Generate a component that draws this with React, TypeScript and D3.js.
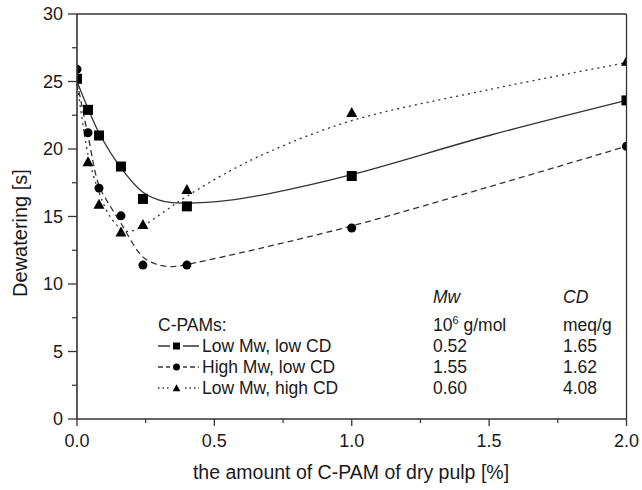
import React from "react";
import * as d3 from "d3";

const W = 642;
const H = 490;

// measured points
const xSquares = [0, 0.04, 0.08, 0.16, 0.24, 0.4, 1.0, 2.0];
const ySquares = [25.2, 22.9, 21.0, 18.7, 16.3, 15.75, 18.0, 23.6];
const xCircles = [0, 0.04, 0.08, 0.16, 0.24, 0.4, 1.0, 2.0];
const yCircles = [25.9, 21.2, 17.1, 15.05, 11.4, 11.4, 14.15, 20.2];
const xTriangles = [0.04, 0.08, 0.16, 0.24, 0.4, 1.0, 2.0];
const yTriangles = [19.05, 15.9, 13.85, 14.4, 17.0, 22.7, 26.5];

// fitted curves
const xFitSolid = [0, 0.04, 0.08, 0.16, 0.24, 0.32, 0.4, 0.55, 0.7, 1.0, 1.5, 2.0];
const yFitSolid = [25.0, 23.0, 21.2, 18.6, 16.8, 16.1, 16.0, 16.2, 16.7, 18.1, 21.0, 23.6];
const xFitDashed = [0, 0.04, 0.08, 0.12, 0.16, 0.24, 0.3, 0.36, 0.4, 0.55, 0.7, 1.0, 1.5, 2.0];
const yFitDashed = [25.0, 21.0, 17.3, 15.8, 14.5, 12.0, 11.4, 11.3, 11.45, 12.1, 12.8, 14.3, 17.2, 20.2];
const xFitDotted = [0, 0.04, 0.08, 0.12, 0.16, 0.19, 0.24, 0.32, 0.4, 0.55, 0.7, 1.0, 1.5, 2.0];
const yFitDotted = [25.0, 19.6, 16.8, 15.0, 14.1, 13.9, 14.3, 15.4, 16.5, 18.3, 19.8, 22.1, 24.4, 26.4];

const xTicks = [0, 0.5, 1.0, 1.5, 2.0];
const xMinorTicks = [0.25, 0.75, 1.25, 1.75];
const yTicks = [0, 5, 10, 15, 20, 25, 30];
const yMinorTicks = [2.5, 7.5, 12.5, 17.5, 22.5, 27.5];

const legendNames = ["Low Mw, low CD", "High Mw, low CD", "Low Mw, high CD"];
const legendMw = ["0.52", "1.55", "0.60"];
const legendCD = ["1.65", "1.62", "4.08"];

const FONT = "'Liberation Sans', Arial, sans-serif";
const LINE = "#333";
const TXT = "#1a1a1a";

export default function App() {
  const x = d3.scaleLinear().domain([0, 2]).range([77, 626.5]);
  const y = d3.scaleLinear().domain([0, 30]).range([419, 14]);
  const line = d3
    .line<[number, number]>()
    .x((d) => x(d[0]))
    .y((d) => y(d[1]))
    .curve(d3.curveCatmullRom.alpha(0.5));

  const zip = (a: number[], b: number[]) => a.map((v, i) => [v, b[i]] as [number, number]);

  const dashes = ["none", "6,4", "2,4"];
  const legendDashes = ["none", "5,3", "1.5,3"];
  const fits = [
    zip(xFitSolid, yFitSolid),
    zip(xFitDashed, yFitDashed),
    zip(xFitDotted, yFitDotted),
  ];

  const square = (cx: number, cy: number, s: number, k: string) => (
    <rect key={k} x={cx - s / 2} y={cy - s / 2} width={s} height={s} fill="#000" />
  );
  const circle = (cx: number, cy: number, s: number, k: string) => (
    <circle key={k} cx={cx} cy={cy} r={s / 2} fill="#000" />
  );
  const tri = (cx: number, cy: number, s: number, k: string) => (
    <path
      key={k}
      d={`M${cx},${cy - s * 0.55}L${cx + s * 0.55},${cy + s * 0.45}L${cx - s * 0.55},${cy + s * 0.45}Z`}
      fill="#000"
    />
  );
  const markers = [square, circle, tri];

  const [x0, x1] = x.range();
  const [y0, y1] = y.range();

  const legendX = 158;
  const legendRows = [352, 373, 394];

  return (
    <svg
      width={W}
      height={H}
      style={{ position: "absolute", left: 0, top: 0, background: "#fff" }}
      fontFamily={FONT}
    >
      <defs>
        <clipPath id="plot">
          <rect x={x0} y={y1} width={x1 - x0} height={y0 - y1} />
        </clipPath>
      </defs>

      <g clipPath="url(#plot)">
        {fits.map((f, i) => (
          <path
            key={"f" + i}
            d={line(f) || ""}
            fill="none"
            stroke={LINE}
            strokeWidth={1.3}
            strokeDasharray={dashes[i]}
          />
        ))}
        {xSquares.map((v, i) => square(x(v), y(ySquares[i]), 10, "s" + i))}
        {xCircles.map((v, i) => circle(x(v), y(yCircles[i]), 9, "c" + i))}
        {xTriangles.map((v, i) => tri(x(v), y(yTriangles[i]), 10, "t" + i))}
      </g>

      {/* frame */}
      <line x1={x0} x2={x1} y1={y1} y2={y1} stroke={LINE} strokeWidth={1.3} />
      <line x1={x1} x2={x1} y1={y1} y2={y0} stroke={LINE} strokeWidth={1.3} />
      <line x1={x0} x2={x1} y1={y0} y2={y0} stroke={LINE} strokeWidth={1.6} />
      <line x1={x0} x2={x0} y1={y1} y2={y0} stroke={LINE} strokeWidth={1.6} />

      {/* y ticks */}
      {yTicks.map((t) => (
        <g key={"yt" + t}>
          <line x1={x0 - 9} x2={x0} y1={y(t)} y2={y(t)} stroke={LINE} strokeWidth={1.3} />
          <text x={x0 - 14} y={y(t)} dy="0.36em" textAnchor="end" fontSize={18} fill={TXT}>
            {t}
          </text>
        </g>
      ))}
      {yMinorTicks.map((t) => (
        <line key={"ym" + t} x1={x0 - 5} x2={x0} y1={y(t)} y2={y(t)} stroke={LINE} strokeWidth={1.2} />
      ))}

      {/* x ticks */}
      {xTicks.map((t) => (
        <g key={"xt" + t}>
          <line x1={x(t)} x2={x(t)} y1={y0} y2={y0 + 7} stroke={LINE} strokeWidth={1.3} />
          <text x={x(t)} y={447} textAnchor="middle" fontSize={18} fill={TXT}>
            {t.toFixed(1)}
          </text>
        </g>
      ))}
      {xMinorTicks.map((t) => (
        <line key={"xm" + t} x1={x(t)} x2={x(t)} y1={y0} y2={y0 + 4} stroke={LINE} strokeWidth={1.2} />
      ))}

      {/* axis titles */}
      <text x={351} y={479} textAnchor="middle" fontSize={19.5} fill={TXT}>
        the amount of C-PAM of dry pulp [%]
      </text>
      <text
        transform={`translate(27,233) rotate(-90)`}
        textAnchor="middle"
        fontSize={20}
        fill={TXT}
      >
        Dewatering [s]
      </text>

      {/* legend */}
      <text x={legendX} y={331} fontSize={17.5} fill={TXT}>
        C-PAMs:
      </text>
      {legendNames.map((n, i) => {
        const cy = legendRows[i] - 6;
        return (
          <g key={"lg" + i}>
            <line
              x1={legendX}
              x2={legendX + 41}
              y1={cy}
              y2={cy}
              stroke={LINE}
              strokeWidth={1.3}
              strokeDasharray={legendDashes[i]}
            />
            <rect x={legendX + 12} y={cy - 6} width={13} height={12} fill="#fff" />
            {markers[i](legendX + 18.5, cy, 7, "lm" + i)}
            <text x={legendX + 44} y={legendRows[i]} fontSize={17.5} fill={TXT}>
              {n}
            </text>
            <text x={433} y={legendRows[i]} fontSize={17.5} fill={TXT}>
              {legendMw[i]}
            </text>
            <text x={563} y={legendRows[i]} fontSize={17.5} fill={TXT}>
              {legendCD[i]}
            </text>
          </g>
        );
      })}
      <text x={433} y={303} fontSize={17.5} fontStyle="italic" fill={TXT}>
        Mw
      </text>
      <text x={563} y={303} fontSize={17.5} fontStyle="italic" fill={TXT}>
        CD
      </text>
      <text x={433} y={331} fontSize={17.5} fill={TXT}>
        10
        <tspan fontSize={11} dy={-7}>
          6
        </tspan>
        <tspan dy={7}> g/mol</tspan>
      </text>
      <text x={563} y={331} fontSize={17.5} fill={TXT}>
        meq/g
      </text>
    </svg>
  );
}
